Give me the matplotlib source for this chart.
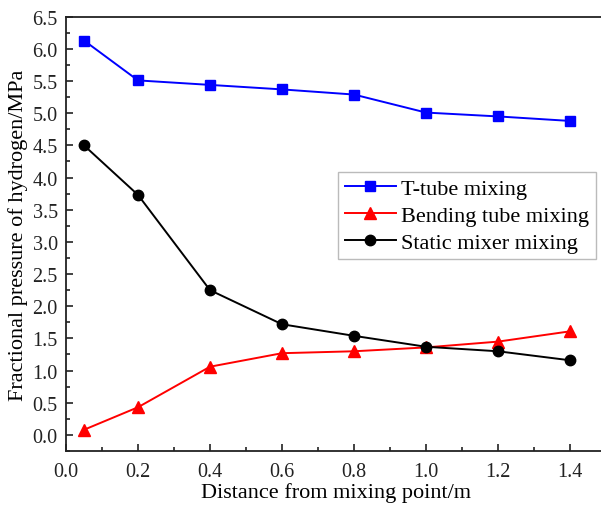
import matplotlib
matplotlib.use("Agg")
import matplotlib.pyplot as plt
from matplotlib.ticker import MultipleLocator

x = [0.05, 0.2, 0.4, 0.6, 0.8, 1.0, 1.2, 1.4]
t_tube = [6.13, 5.51, 5.44, 5.37, 5.29, 5.01, 4.95, 4.88]
bending = [0.08, 0.43, 1.06, 1.27, 1.30, 1.36, 1.45, 1.61]
static = [4.50, 3.73, 2.25, 1.72, 1.54, 1.37, 1.30, 1.16]
xticks = [0.0, 0.2, 0.4, 0.6, 0.8, 1.0, 1.2, 1.4]
yticks = [0.0, 0.5, 1.0, 1.5, 2.0, 2.5, 3.0, 3.5, 4.0, 4.5, 5.0, 5.5, 6.0, 6.5]

plt.rcParams['font.family'] = ['Liberation Serif', 'DejaVu Serif']

fig = plt.figure(figsize=(6.01, 5.06), dpi=100)
ax = fig.add_axes([66/601, 1-452/506, (606-66)/601, (452-17.7)/506])

ax.plot(x, t_tube, color='#0000ff', marker='s', markersize=7, lw=1.4, label='T-tube mixing')
ax.plot(x, bending, color='#ff0000', marker='^', markersize=8, lw=1.4, label='Bending tube mixing')
ax.plot(x, static, color='black', marker='o', markersize=7.5, lw=1.4, label='Static mixer mixing')

ax.set_xlim(0.0, 1.5)
ax.set_ylim(-0.25, 6.5)
ax.set_xticks(xticks)
ax.set_xticklabels([f'{v:.1f}' for v in xticks])
ax.set_yticks(yticks)
ax.set_yticklabels([f'{v:.1f}' for v in yticks])
ax.xaxis.set_minor_locator(MultipleLocator(0.1))
ax.yaxis.set_minor_locator(MultipleLocator(0.25))
ax.tick_params(which='both', direction='in', labelsize=14.5, colors='#222222', width=1.2)
ax.tick_params(axis='x', which='major', pad=8)
ax.tick_params(axis='y', which='major', pad=6)
ax.tick_params(which='major', length=5)
ax.tick_params(which='minor', length=3)
for s in ax.spines.values():
    s.set_linewidth(1.3)
    s.set_color('#222222')
ax.spines['right'].set_visible(False)

ax.set_xlabel('Distance from mixing point/m', fontsize=16, labelpad=1)
ax.set_ylabel('Fractional pressure of hydrogen/MPa', fontsize=16, labelpad=3)

leg = ax.legend(loc='upper left', bbox_to_anchor=((338-66)/540, (452-173)/434.3),
                fontsize=16, frameon=True, fancybox=False, edgecolor='#aaaaaa',
                handlelength=2.3, handletextpad=0.25, borderpad=0.3, labelspacing=0.28,
                borderaxespad=0)
leg.get_frame().set_linewidth(1.0)

fig.savefig('out.png', dpi=100)
